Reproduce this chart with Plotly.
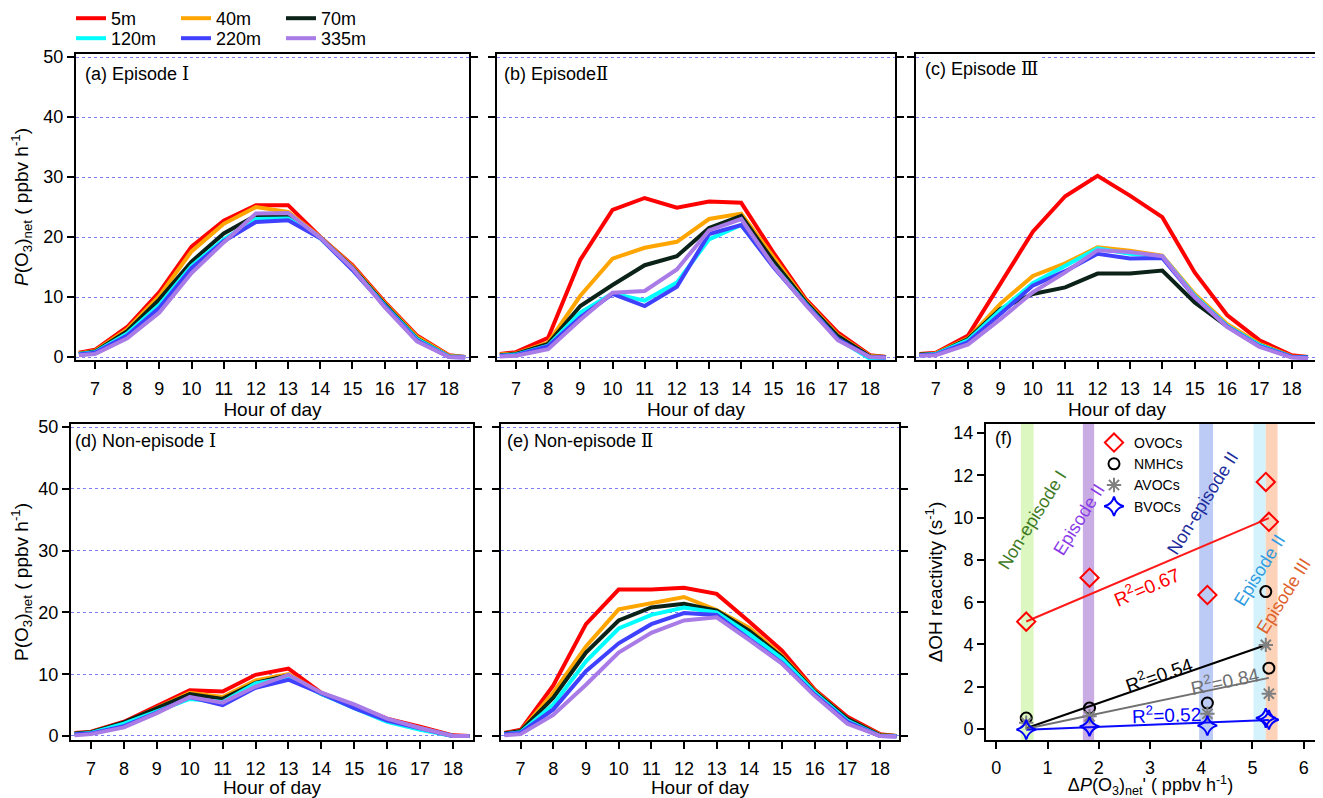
import numpy as np
import plotly.graph_objects as go
from plotly.subplots import make_subplots

#%% Data
hours = [6.5, 7, 8, 9, 10, 11, 12, 13, 14, 15, 16, 17, 18, 18.5]
heights = ['5m', '40m', '70m', '120m', '220m', '335m']

a_5m   = [0.7, 1.2, 5.0, 10.8, 18.4, 22.7, 25.3, 25.3, 20.0, 15.3, 9.2, 3.6, 0.3, 0.0]
a_40m  = [0.6, 1.0, 4.6, 10.2, 17.6, 22.2, 25.0, 24.2, 20.0, 15.1, 9.0, 3.4, 0.2, 0.0]
a_70m  = [0.5, 0.9, 4.3, 9.6, 15.9, 20.6, 23.6, 23.6, 19.9, 14.9, 8.8, 3.1, 0.1, 0.0]
a_120m = [0.5, 0.8, 3.9, 8.7, 15.2, 19.6, 23.0, 23.1, 19.8, 14.7, 8.6, 3.0, 0.1, 0.0]
a_220m = [0.4, 0.7, 3.6, 8.2, 14.8, 19.3, 22.5, 22.8, 19.8, 14.5, 8.5, 2.8, 0.0, -0.1]
a_335m = [0.3, 0.5, 3.1, 7.4, 14.0, 19.1, 23.9, 24.0, 19.9, 14.8, 8.3, 2.6, 0.0, -0.1]

b_5m   = [0.5, 0.8, 3.2, 16.2, 24.5, 26.5, 24.9, 25.9, 25.7, 17.4, 9.7, 4.1, 0.3, 0.0]
b_40m  = [0.4, 0.6, 2.4, 10.2, 16.4, 18.2, 19.2, 23.0, 23.9, 16.6, 9.4, 3.7, 0.2, 0.0]
b_70m  = [0.3, 0.5, 2.2, 8.5, 12.0, 15.3, 16.8, 21.5, 23.5, 16.0, 9.2, 3.5, 0.1, 0.0]
b_120m = [0.2, 0.4, 1.9, 7.4, 10.6, 9.4, 12.4, 19.6, 22.0, 15.2, 8.9, 3.0, -0.3, -0.3]
b_220m = [0.2, 0.3, 1.8, 6.6, 10.5, 8.5, 11.7, 20.5, 22.0, 15.0, 8.8, 3.0, 0.0, -0.1]
b_335m = [0.1, 0.2, 1.3, 6.2, 10.7, 11.0, 14.6, 21.1, 23.0, 15.2, 8.7, 2.8, 0.0, -0.1]

c_5m   = [0.5, 0.7, 3.6, 12.1, 20.9, 26.8, 30.2, 26.9, 23.3, 14.1, 7.0, 2.8, 0.3, 0.0]
c_40m  = [0.4, 0.6, 3.1, 8.9, 13.5, 15.6, 18.3, 17.7, 16.9, 10.5, 5.5, 2.2, 0.1, 0.0]
c_70m  = [0.4, 0.5, 3.0, 8.0, 10.5, 11.6, 13.9, 13.9, 14.4, 9.1, 5.1, 2.0, 0.0, 0.0]
c_120m = [0.3, 0.5, 2.8, 7.8, 12.3, 15.2, 18.1, 17.2, 16.8, 10.2, 5.2, 2.0, 0.0, -0.1]
c_220m = [0.3, 0.4, 2.5, 7.3, 11.9, 14.3, 17.2, 16.4, 16.5, 10.0, 5.1, 1.8, 0.0, -0.1]
c_335m = [0.2, 0.3, 2.1, 6.3, 10.8, 14.1, 17.8, 17.5, 16.8, 10.0, 5.0, 1.7, -0.1, -0.2]

d_5m   = [0.5, 0.7, 2.3, 4.9, 7.4, 7.2, 9.9, 10.9, 7.0, 4.9, 2.8, 1.5, 0.1, 0.0]
d_40m  = [0.4, 0.6, 2.1, 4.5, 7.0, 6.3, 9.0, 10.0, 6.9, 4.8, 2.6, 1.3, 0.0, 0.0]
d_70m  = [0.4, 0.6, 2.2, 4.5, 6.8, 6.0, 8.6, 9.8, 6.8, 4.7, 2.5, 1.2, 0.0, 0.0]
d_120m = [0.3, 0.5, 2.0, 4.0, 6.0, 5.5, 8.5, 9.5, 6.8, 4.5, 2.3, 1.0, 0.0, 0.0]
d_220m = [0.3, 0.4, 1.6, 3.8, 6.3, 5.0, 7.8, 9.1, 6.9, 4.5, 2.5, 1.2, 0.0, 0.0]
d_335m = [0.1, 0.3, 1.4, 3.7, 6.3, 5.4, 8.0, 9.9, 7.0, 5.1, 2.8, 1.3, 0.0, 0.0]

e_5m   = [0.5, 1.0, 8.2, 18.1, 23.7, 23.7, 24.0, 23.0, 18.5, 13.8, 7.5, 3.1, 0.3, 0.0]
e_40m  = [0.4, 0.8, 7.0, 14.5, 20.5, 21.5, 22.5, 20.4, 17.5, 13.0, 7.3, 2.8, 0.2, 0.0]
e_70m  = [0.4, 0.8, 6.2, 13.5, 18.7, 20.8, 21.4, 20.3, 17.0, 12.8, 7.2, 2.8, 0.1, 0.0]
e_120m = [0.3, 0.6, 5.1, 12.1, 17.4, 19.6, 20.8, 20.0, 16.5, 12.5, 7.0, 2.5, 0.0, 0.0]
e_220m = [0.3, 0.5, 4.3, 10.5, 15.0, 18.1, 19.9, 19.6, 15.7, 11.8, 6.7, 2.3, 0.0, -0.1]
e_335m = [0.1, 0.3, 3.4, 8.3, 13.5, 16.7, 18.7, 19.2, 15.5, 11.7, 6.5, 2.0, 0.0, -0.1]

# panel (f): delta P(O3)net' per case and delta OH reactivity per VOC group
dpo3 = [0.585, 1.82, 4.12, 5.26, 5.32]
ovocs = [5.08, 7.16, 6.34, 11.69, 9.80]
nmhcs = [0.52, 0.99, 1.23, 6.50, 2.88]
avocs = [0.30, 0.60, 0.72, 3.98, 1.67]
bvocs = [-0.03, 0.12, 0.16, 0.52, 0.44]
r2_text = ['0.67', '0.54', '0.84', '0.52']

band_names = ['Non-episode I', 'Episode II', 'Non-episode II', 'Episode II', 'Episode III']
band_x0 = [0.48, 1.69, 3.96, 5.02, 5.26]
band_x1 = [0.73, 1.91, 4.23, 5.26, 5.49]

#%% Styles
FONT = 'Liberation Sans, Arial, sans-serif'
ROMAN = '<span style="font-family:DejaVu Serif">{}</span>'
line_colors = ['#ff0000', '#ffa500', '#0a2218', '#00ffff', '#4040ff', '#a97be6']
band_colors = ['#dcf8c0', '#c9ace3', '#bccbf5', '#d3f2fb', '#fcd2b8']
band_text_colors = ['#3d7a1e', '#8a3be8', '#1c2c9c', '#2e9be0', '#e0602a']

panels = [
    [a_5m, a_40m, a_70m, a_120m, a_220m, a_335m],
    [b_5m, b_40m, b_70m, b_120m, b_220m, b_335m],
    [c_5m, c_40m, c_70m, c_120m, c_220m, c_335m],
    [d_5m, d_40m, d_70m, d_120m, d_220m, d_335m],
    [e_5m, e_40m, e_70m, e_120m, e_220m, e_335m],
]
cells = [(1, 1), (1, 2), (1, 3), (2, 1), (2, 2)]

fig = make_subplots(rows=2, cols=3)

for p, (series, (r, c)) in enumerate(zip(panels, cells)):
    for k, ys in enumerate(series):
        fig.add_trace(go.Scatter(
            x=hours, y=ys, mode='lines', name=heights[k],
            line=dict(color=line_colors[k], width=4),
            showlegend=(p == 0), legend='legend' if k < 3 else 'legend2'),
            row=r, col=c)

# panel (f) bands
for k in range(len(band_x0)):
    fig.add_shape(type='rect', xref='x6', yref='y6 domain', x0=band_x0[k], x1=band_x1[k],
                  y0=0, y1=1, fillcolor=band_colors[k], line_width=0, layer='below')

# regression lines
fit_colors = ['#ff1a1a', '#000000', '#707070', '#0a0aff']
groups = [ovocs, nmhcs, avocs, bvocs]
xs = np.array(dpo3)
xl = np.array([xs.min(), xs.max()])
for g, col in zip(groups, fit_colors):
    m, b = np.polyfit(xs, np.array(g), 1)
    fig.add_trace(go.Scatter(x=xl, y=m * xl + b, mode='lines', line=dict(color=col, width=2),
                             showlegend=False, hoverinfo='skip'), row=2, col=3)

marker_specs = [
    ('OVOCs', ovocs, 'diamond-open', '#ff0000', 14),
    ('NMHCs', nmhcs, 'circle-open', '#000000', 11),
    ('AVOCs', avocs, 'asterisk-open', '#808080', 12),
    ('BVOCs', bvocs, 'star-diamond-open', '#0000ff', 14),
]
for name, ys, sym, col, sz in marker_specs:
    fig.add_trace(go.Scatter(x=dpo3, y=ys, mode='markers', name=name,
                             marker=dict(symbol=sym, size=sz, color=col, line=dict(width=2, color=col)),
                             legend='legend3'), row=2, col=3)

#%% Axes (positions given in window pixels; the page body adds an 8 px offset)
W, H, OFF = 1315, 790, 8
def fx(px): return (px - OFF) / W
def fy(py): return 1 - (py - OFF) / H

x_dom = [[fx(76), fx(469)], [fx(497), fx(895)], [fx(916), fx(1318)],
         [fx(71), fx(473)], [fx(501), fx(899)], [fx(986), fx(1315)]]
y_dom = [[fy(360), fy(54)]] * 3 + [[fy(740), fy(424)]] * 3
x_rng = [[6.41, 18.62], [6.41, 18.78], [6.39, 18.81], [6.39, 18.61], [6.40, 18.58], [-0.2, 6.22]]
y_rng = [[-0.5, 50.5]] * 3 + [[-0.65, 50.5], [-0.65, 50.5], [-0.52, 14.43]]

ax_common = dict(showline=True, linecolor='black', linewidth=2, ticks='outside', ticklen=7,
                 tickwidth=2, tickcolor='black', zeroline=False,
                 tickfont=dict(size=18, color='black', family=FONT))
title_font = dict(size=19, family=FONT, color='black')

ytitle_a = '<i>P</i>(O<sub>3</sub>)<sub>net</sub> ( ppbv h<sup>-1</sup>)'
ytitle_d = 'P(O<sub>3</sub>)<sub>net</sub> ( ppbv h<sup>-1</sup>)'

for i in range(6):
    xa = 'xaxis' if i == 0 else f'xaxis{i + 1}'
    ya = 'yaxis' if i == 0 else f'yaxis{i + 1}'
    if i < 5:
        fig.layout[xa].update(domain=x_dom[i], range=x_rng[i], tickvals=list(range(7, 19)),
                              showgrid=False, mirror=True, ticklabelstandoff=4,
                              title=dict(text='Hour of day', standoff=0, font=title_font),
                              **ax_common)
        fig.layout[ya].update(domain=y_dom[i], range=y_rng[i], tickvals=[0, 10, 20, 30, 40, 50],
                              showgrid=True, gridcolor='#7c7cf4', griddash='dot', gridwidth=1,
                              mirror='ticks', showticklabels=(i in (0, 3)),
                              **ax_common)
    else:
        fig.layout[xa].update(domain=x_dom[i], range=x_rng[i], tickvals=list(range(0, 7)),
                              showgrid=False, mirror=True, ticklabelstandoff=3,
                              title=dict(text="Δ<i>P</i>(O<sub>3</sub>)<sub>net</sub>' ( ppbv h<sup>-1</sup>)",
                                         standoff=0, font=dict(size=18, family=FONT, color='black')),
                              **ax_common)
        fig.layout[ya].update(domain=y_dom[i], range=y_rng[i], tickvals=list(range(0, 15, 2)),
                              showgrid=False, mirror='ticks',
                              title=dict(text='ΔOH reactivity (s<sup>-1</sup>)', standoff=6,
                                         font=title_font),
                              **ax_common)

fig.layout.yaxis.title = dict(text=ytitle_a, standoff=18, font=title_font)
fig.layout.yaxis4.title = dict(text=ytitle_d, standoff=18, font=title_font)

#%% Annotations
labels = [('(a) Episode ' + ROMAN.format('Ⅰ'), 83, 73), ('(b) Episode' + ROMAN.format('Ⅱ'), 502, 73),
          ('(c) Episode ' + ROMAN.format('Ⅲ'), 923, 69), ('(d) Non-episode ' + ROMAN.format('Ⅰ'), 73, 440),
          ('(e) Non-episode ' + ROMAN.format('Ⅱ'), 505, 440), ('(f)', 993, 438)]
for txt, lx, ly in labels:
    fig.add_annotation(text=txt, xref='paper', yref='paper', x=fx(lx), y=fy(ly),
                       xanchor='left', yanchor='middle', showarrow=False, bgcolor='white',
                       font=dict(size=18, family=FONT, color='black'))

band_label_pos = [(0.70, 9.9), (1.61, 9.9), (4.03, 10.7), (5.15, 7.5), (5.61, 6.3)]
for k, (bx, by) in enumerate(band_label_pos):
    fig.add_annotation(text=band_names[k], x=bx, y=by, xref='x6', yref='y6', textangle=-58,
                       showarrow=False, font=dict(size=18, family=FONT, color=band_text_colors[k]))

r2_pos = [(2.94, 6.75, -23, '#ff0000'), (3.17, 2.62, -19, '#000000'),
          (4.47, 2.33, -12, '#707070'), (3.33, 0.70, -2, '#0000ff')]
for t, (rx, ry, ang, col) in zip(r2_text, r2_pos):
    fig.add_annotation(text='R<sup>2</sup>=' + t, x=rx, y=ry, xref='x6', yref='y6', textangle=ang,
                       showarrow=False, font=dict(size=19, family=FONT, color=col))

#%% Layout
leg_common = dict(orientation='h', yanchor='top', xanchor='left', bgcolor='rgba(0,0,0,0)',
                  font=dict(size=18, family=FONT, color='black'), entrywidth=60,
                  entrywidthmode='pixels', tracegroupgap=0)
fig.update_layout(
    width=W, height=H, margin=dict(l=0, r=0, t=0, b=0, autoexpand=False),
    paper_bgcolor='white', plot_bgcolor='white',
    font=dict(family=FONT, color='black'),
    legend=dict(x=fx(71), y=1 + 8 / H, **leg_common),
    legend2=dict(x=fx(71), y=1 - 12 / H, **leg_common),
    legend3=dict(x=fx(1094), y=fy(427), xanchor='left', yanchor='top', bgcolor='rgba(0,0,0,0)',
                 font=dict(size=14, family=FONT, color='black'), tracegroupgap=0),
)

fig.write_html("out.html")
